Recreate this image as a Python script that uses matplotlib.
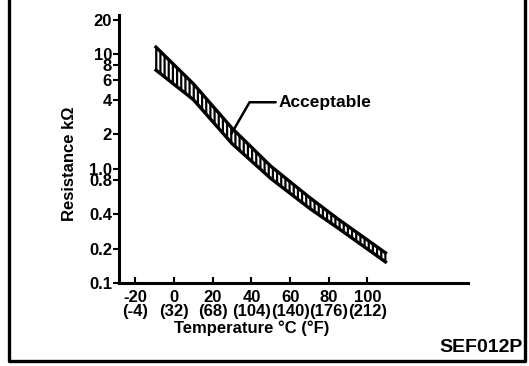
import matplotlib
matplotlib.use("Agg")
import matplotlib.pyplot as plt
from matplotlib.lines import Line2D
import matplotlib.transforms as mtransforms

# readings off the reference band (kOhm at each temperature)
temps = [-10, 10, 30, 50, 70, 85, 110]
upper_res = [11.8, 5.5, 2.25, 1.05, 0.56, 0.36, 0.18]
lower_res = [7.4, 4.0, 1.65, 0.82, 0.45, 0.30, 0.15]

x_ticks = [-20, 0, 20, 40, 60, 80, 100]
x_labels = ["-20\n(-4)", "0\n(32)", "20\n(68)", "40\n(104)", "60\n(140)",
            "80\n(176)", "100\n(212)"]
y_ticks = [0.1, 0.2, 0.4, 0.8, 1.0, 2, 4, 6, 8, 10, 20]
y_labels = ["0.1", "0.2", "0.4", "0.8", "1.0", "2", "4", "6", "8", "10", "20"]

plt.rcParams["font.family"] = ["Liberation Sans", "DejaVu Sans"]
plt.rcParams["hatch.linewidth"] = 1.6

W, H = 529, 366
fig = plt.figure(figsize=(W / 100, H / 100), dpi=100)
ax = fig.add_axes([119 / W, 1 - 283 / H, (468 - 119) / W, (283 - 15) / H])

ax.set_yscale("log")
ax.set_xlim(-28.5, 152)
ax.set_ylim(0.1, 22)

ax.fill_between(temps, lower_res, upper_res, facecolor="white",
                edgecolor="black", hatch="||||", linewidth=0)
ax.plot(temps, upper_res, color="black", lw=2.4, solid_capstyle="butt")
ax.plot(temps, lower_res, color="black", lw=2.4, solid_capstyle="butt")

# leader for the label
ax.annotate("Acceptable", xy=(29.5, 2.0), xytext=(54, 3.8),
            fontsize=12.5, fontweight="bold", va="center", ha="left",
            arrowprops=dict(arrowstyle="-", color="black", lw=1.8,
                            connectionstyle="angle,angleA=0,angleB=60,rad=0",
                            shrinkA=0, shrinkB=0))

for side in ["top", "right"]:
    ax.spines[side].set_visible(False)
ax.spines["left"].set_linewidth(2.2)
ax.spines["bottom"].set_linewidth(2.2)

ax.set_xticks(x_ticks)
ax.set_xticklabels(x_labels, fontsize=12, fontweight="bold", linespacing=0.9)
ax.tick_params(axis="x", direction="in", length=4, width=1.5, pad=5)
ax.minorticks_off()
ax.set_yticks(y_ticks)
ax.set_yticklabels(y_labels, fontsize=12, fontweight="bold")
ax.tick_params(axis="y", direction="out", length=4, width=1.5, pad=1)

ax.set_ylabel("Resistance kΩ", fontsize=12, fontweight="bold")
ax.yaxis.set_label_coords(-0.12, 0.445)
trans = mtransforms.blended_transform_factory(ax.transData, fig.transFigure)
ax.text(40, 1 - 328 / H, "Temperature °C (°F)", transform=trans,
        ha="center", va="center", fontsize=12, fontweight="bold")

fig.text(523 / W, 1 - 348 / H, "SEF012P", ha="right", va="center",
         fontsize=14, fontweight="bold")

# page frame (open at the top)
fx = [9 / W, 9 / W, 525 / W, 525 / W]
fy = [1.0, 1 - 361 / H, 1 - 361 / H, 1.0]
fig.add_artist(Line2D(fx, fy, color="black", lw=2.4,
                      transform=fig.transFigure))

fig.savefig("out.png", dpi=100)
